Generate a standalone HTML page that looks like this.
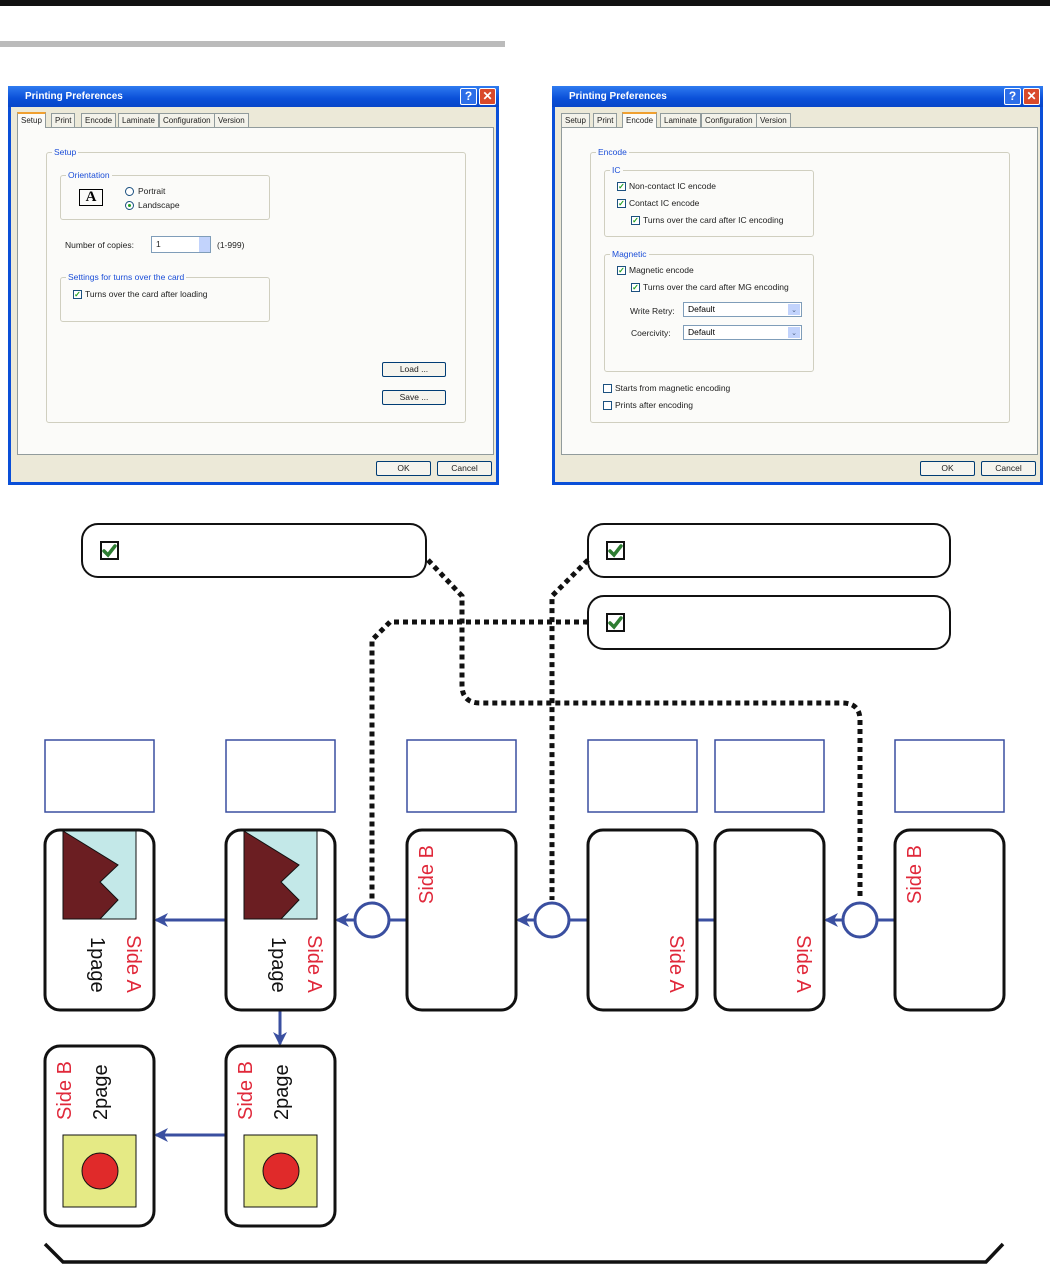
<!DOCTYPE html>
<html><head><meta charset="utf-8"><style>
*{margin:0;padding:0;box-sizing:border-box}
body{width:1050px;height:1266px;background:#fff;position:relative;overflow:hidden;font-family:"Liberation Sans",sans-serif}
.a{position:absolute}
.dlg{position:absolute;top:86px;width:491px;height:399px;background:#0a4fd8;}
.dlg .in{position:absolute;left:3px;top:21px;right:3px;bottom:3px;background:#ece9d8}
.tb{position:absolute;left:0;top:0;right:0;height:21px;background:linear-gradient(#2f7bf0,#0a4fd8 60%,#0846c8);color:#fff;font-weight:bold;font-size:10px;line-height:21px;padding-left:17px}
.btnq,.btnx{position:absolute;top:2px;width:17px;height:17px;border:1px solid #fff;border-radius:2px;color:#fff;font-size:12px;text-align:center;line-height:15px;font-weight:bold}
.btnq{right:22px;background:#2d6ee8}.btnx{right:3px;background:#d9492a}
.t{font-size:8.5px;color:#222;position:absolute;white-space:nowrap}
.grp{position:absolute;border:1px solid #d0cfc0;border-radius:3px}
.lg{position:absolute;top:-6px;left:5px;background:#fbfbf9;padding:0 2px;font-size:8.5px;color:#1b4ed8;line-height:11px}
.panel{position:absolute;left:6px;top:20px;width:477px;height:328px;background:#fbfbf9;border:1px solid #919b9c}
.tab{position:absolute;top:6px;height:14px;border:1px solid #919b9c;border-bottom:none;background:#f3f2ea;font-size:8px;line-height:13px;padding:0 3px;color:#222}
.btn{position:absolute;height:15px;border:1px solid #003c74;border-radius:2px;background:#f5f4ee;font-size:8.5px;text-align:center;line-height:13px;color:#222}
.cb{position:absolute;width:9px;height:9px;border:1px solid #1c5180;background:#fff;font-size:8px;line-height:7px;color:#21a121;text-align:center;font-weight:bold}
.sel{position:absolute;height:15px;border:1px solid #7f9db9;background:#fff;font-size:8.5px;line-height:13px;padding-left:4px}
.sel i{position:absolute;right:1px;top:1px;width:12px;height:11px;background:#c2d3fc;font-style:normal;font-size:7px;text-align:center;color:#4d6185}
</style></head><body>
<div class="a" style="left:0;top:0;width:1050px;height:6px;background:#111"></div>
<div class="a" style="left:0;top:41px;width:505px;height:6px;background:#bbb"></div>

<div class="dlg" style="left:8px">
<div class="tb">Printing Preferences</div><div class="btnq">?</div><div class="btnx">✕</div>
<div class="in">
 <div class="tab" style="left:6px;top:5px;height:16px;background:#fbfbf9;border-top:2px solid #f0a030;z-index:2">Setup</div>
 <div class="tab" style="left:40px">Print</div>
 <div class="tab" style="left:70px">Encode</div>
 <div class="tab" style="left:107px">Laminate</div>
 <div class="tab" style="left:148px">Configuration</div>
 <div class="tab" style="left:203px">Version</div>
 <div class="panel">
  <div class="grp" style="left:28px;top:24px;width:420px;height:271px"><div class="lg">Setup</div>
   <div class="grp" style="left:13px;top:22px;width:210px;height:45px"><div class="lg">Orientation</div>
    <div class="a" style="left:18px;top:13px;width:24px;height:17px;border:1px solid #000;font-family:'Liberation Serif';font-weight:bold;font-size:15px;line-height:15px;text-align:center">A</div>
    <div class="a" style="left:64px;top:11px;width:9px;height:9px;border:1px solid #1c5180;border-radius:50%;background:#fff"></div>
    <div class="t" style="left:77px;top:10px">Portrait</div>
    <div class="a" style="left:64px;top:25px;width:9px;height:9px;border:1px solid #1c5180;border-radius:50%;background:#fff"><div class="a" style="left:2px;top:2px;width:3px;height:3px;background:#21a121;border-radius:50%"></div></div>
    <div class="t" style="left:77px;top:24px">Landscape</div>
   </div>
   <div class="t" style="left:18px;top:87px">Number of copies:</div>
   <div class="a" style="left:104px;top:83px;width:60px;height:17px;border:1px solid #7f9db9;background:#fff"><div class="t" style="left:4px;top:2px">1</div><div class="a" style="right:0;top:0;width:11px;height:15px;background:#c2d3fc"></div></div>
   <div class="t" style="left:170px;top:87px">(1-999)</div>
   <div class="grp" style="left:13px;top:124px;width:210px;height:45px"><div class="lg">Settings for turns over the card</div>
    <div class="cb" style="left:12px;top:12px">✓</div><div class="t" style="left:24px;top:11px">Turns over the card after loading</div>
   </div>
   <div class="btn" style="left:335px;top:209px;width:64px">Load ...</div>
   <div class="btn" style="left:335px;top:237px;width:64px">Save ...</div>
  </div>
 </div>
 <div class="btn" style="left:365px;top:354px;width:55px">OK</div>
 <div class="btn" style="left:426px;top:354px;width:55px">Cancel</div>
</div></div>

<div class="dlg" style="left:552px">
<div class="tb">Printing Preferences</div><div class="btnq">?</div><div class="btnx">✕</div>
<div class="in">
 <div class="tab" style="left:6px">Setup</div>
 <div class="tab" style="left:38px">Print</div>
 <div class="tab" style="left:67px;top:5px;height:16px;background:#fbfbf9;border-top:2px solid #f0a030;z-index:2">Encode</div>
 <div class="tab" style="left:105px">Laminate</div>
 <div class="tab" style="left:146px">Configuration</div>
 <div class="tab" style="left:201px">Version</div>
 <div class="panel">
  <div class="grp" style="left:28px;top:24px;width:420px;height:271px"><div class="lg">Encode</div>
   <div class="grp" style="left:13px;top:17px;width:210px;height:67px"><div class="lg">IC</div>
    <div class="cb" style="left:12px;top:11px">✓</div><div class="t" style="left:24px;top:10px">Non-contact IC encode</div>
    <div class="cb" style="left:12px;top:28px">✓</div><div class="t" style="left:24px;top:27px">Contact IC encode</div>
    <div class="cb" style="left:26px;top:45px">✓</div><div class="t" style="left:38px;top:44px">Turns over the card after IC encoding</div>
   </div>
   <div class="grp" style="left:13px;top:101px;width:210px;height:118px"><div class="lg">Magnetic</div>
    <div class="cb" style="left:12px;top:11px">✓</div><div class="t" style="left:24px;top:10px">Magnetic encode</div>
    <div class="cb" style="left:26px;top:28px">✓</div><div class="t" style="left:38px;top:27px">Turns over the card after MG encoding</div>
    <div class="t" style="left:25px;top:51px">Write Retry:</div><div class="sel" style="left:78px;top:47px;width:119px">Default<i>⌄</i></div>
    <div class="t" style="left:26px;top:73px">Coercivity:</div><div class="sel" style="left:78px;top:70px;width:119px">Default<i>⌄</i></div>
   </div>
   <div class="cb" style="left:12px;top:231px;color:#fff"></div><div class="t" style="left:24px;top:230px">Starts from magnetic encoding</div>
   <div class="cb" style="left:12px;top:248px;color:#fff"></div><div class="t" style="left:24px;top:247px">Prints after encoding</div>
  </div>
 </div>
 <div class="btn" style="left:365px;top:354px;width:55px">OK</div>
 <div class="btn" style="left:426px;top:354px;width:55px">Cancel</div>
</div></div>

<svg class="a" style="left:0;top:0" width="1050" height="1266" viewBox="0 0 1050 1266" font-family="Liberation Sans, sans-serif">
 <defs><marker id="ar" markerWidth="14" markerHeight="14" refX="12" refY="7" orient="auto" markerUnits="userSpaceOnUse"><path d="M0,0 L14,7 L0,14 L4,7 Z" fill="#3a4fa0"/></marker></defs>
 <rect x="82" y="524" width="344" height="53" rx="16" fill="#fff" stroke="#111" stroke-width="2"/>
 <rect x="588" y="524" width="362" height="53" rx="16" fill="#fff" stroke="#111" stroke-width="2"/>
 <rect x="588" y="596" width="362" height="53" rx="16" fill="#fff" stroke="#111" stroke-width="2"/>
 <g stroke="#111" stroke-width="2" fill="#fff"><rect x="101" y="542" width="17" height="17"/><rect x="607" y="542" width="17" height="17"/><rect x="607" y="614" width="17" height="17"/></g>
 <g stroke="#2e7d32" stroke-width="3.5" fill="none" stroke-linecap="round"><path d="M104,551 l4,4 l7,-9"/><path d="M610,551 l4,4 l7,-9"/><path d="M610,623 l4,4 l7,-9"/></g>
 <g stroke="#111" stroke-width="5" fill="none" stroke-dasharray="5,4">
  <path d="M428,560 L462,596 L462,685 Q462,703 480,703 L842,703 Q860,703 860,720 L860,900"/>
  <path d="M588,560 L552,596 L552,900"/>
  <path d="M588,622 L390,622 L372,640 L372,900"/>
 </g>
 <g fill="#fff" stroke="#3a4fa0" stroke-width="1.5">
  <rect x="45" y="740" width="109" height="72"/><rect x="226" y="740" width="109" height="72"/><rect x="407" y="740" width="109" height="72"/>
  <rect x="588" y="740" width="109" height="72"/><rect x="715" y="740" width="109" height="72"/><rect x="895" y="740" width="109" height="72"/>
 </g>
 <g stroke="#3a4fa0" stroke-width="3" fill="none">
  <line x1="226" y1="920" x2="156" y2="920" marker-end="url(#ar)"/>
  <line x1="355" y1="920" x2="337" y2="920" marker-end="url(#ar)"/>
  <line x1="389" y1="920" x2="407" y2="920"/>
  <line x1="535" y1="920" x2="518" y2="920" marker-end="url(#ar)"/>
  <line x1="569" y1="920" x2="588" y2="920"/>
  <line x1="697" y1="920" x2="715" y2="920"/>
  <line x1="843" y1="920" x2="826" y2="920" marker-end="url(#ar)"/>
  <line x1="877" y1="920" x2="895" y2="920"/>
  <line x1="280" y1="1010" x2="280" y2="1044" marker-end="url(#ar)"/>
  <line x1="226" y1="1135" x2="156" y2="1135" marker-end="url(#ar)"/>
  <circle cx="372" cy="920" r="17" fill="#fff"/><circle cx="552" cy="920" r="17" fill="#fff"/><circle cx="860" cy="920" r="17" fill="#fff"/>
 </g>
 <g fill="#fff" stroke="#111" stroke-width="3">
  <rect x="45" y="830" width="109" height="180" rx="15"/><rect x="226" y="830" width="109" height="180" rx="15"/><rect x="407" y="830" width="109" height="180" rx="15"/>
  <rect x="588" y="830" width="109" height="180" rx="15"/><rect x="715" y="830" width="109" height="180" rx="15"/><rect x="895" y="830" width="109" height="180" rx="15"/>
  <rect x="45" y="1046" width="109" height="180" rx="15"/><rect x="226" y="1046" width="109" height="180" rx="15"/>
 </g>
 <g stroke="#111" stroke-width="1">
  <rect x="63" y="831" width="73" height="88" fill="#c3e8e8"/><path d="M63,831 L118,865 L100,882 L118,900 L100,919 L63,919Z" fill="#6b1e22"/>
  <rect x="244" y="831" width="73" height="88" fill="#c3e8e8"/><path d="M244,831 L299,865 L281,882 L299,900 L281,919 L244,919Z" fill="#6b1e22"/>
  <rect x="63" y="1135" width="73" height="72" fill="#e5ea85"/><circle cx="100" cy="1171" r="18" fill="#e02a2a"/>
  <rect x="244" y="1135" width="73" height="72" fill="#e5ea85"/><circle cx="281" cy="1171" r="18" fill="#e02a2a"/>
 </g>
 <g font-size="20">
  <text transform="translate(91,937) rotate(90)" fill="#111">1page</text>
  <text transform="translate(127,935) rotate(90)" fill="#e0283a">Side A</text>
  <text transform="translate(272,937) rotate(90)" fill="#111">1page</text>
  <text transform="translate(308,935) rotate(90)" fill="#e0283a">Side A</text>
  <text transform="translate(670,935) rotate(90)" fill="#e0283a">Side A</text>
  <text transform="translate(797,935) rotate(90)" fill="#e0283a">Side A</text>
  <text transform="translate(433,904) rotate(-90)" fill="#e0283a">Side B</text>
  <text transform="translate(921,904) rotate(-90)" fill="#e0283a">Side B</text>
  <text transform="translate(71,1120) rotate(-90)" fill="#e0283a">Side B</text>
  <text transform="translate(107,1120) rotate(-90)" fill="#111">2page</text>
  <text transform="translate(252,1120) rotate(-90)" fill="#e0283a">Side B</text>
  <text transform="translate(288,1120) rotate(-90)" fill="#111">2page</text>
 </g>
 <path d="M45,1244 L63,1262 L986,1262 L1003,1244" stroke="#111" stroke-width="3.5" fill="none"/>
</svg>
</body></html>
